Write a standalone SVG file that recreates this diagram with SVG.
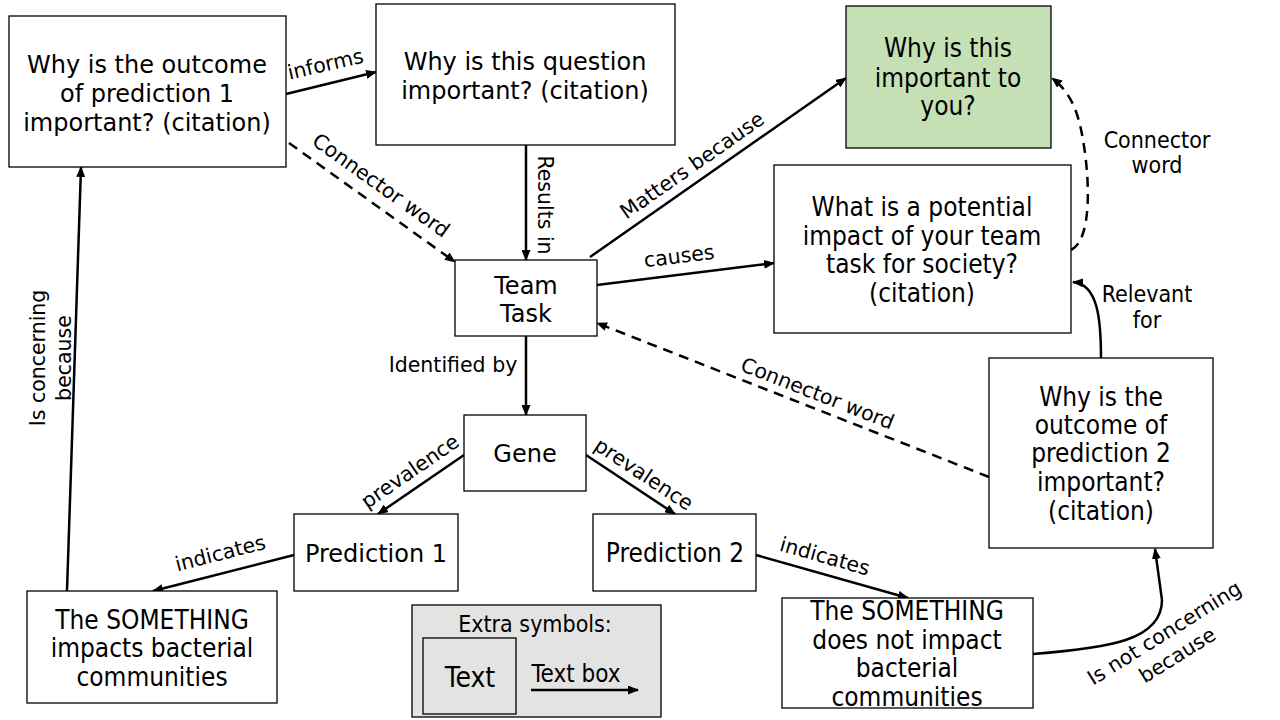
<svg xmlns="http://www.w3.org/2000/svg" width="1280" height="720" viewBox="0 0 1280 720">
<defs>
<marker id="ah" markerWidth="11" markerHeight="9" refX="10" refY="4.5" orient="auto" markerUnits="userSpaceOnUse">
<path d="M0,0 L11,4.5 L0,9 Z" fill="#000"/>
</marker>
</defs>
<style>
.box{fill:#fff;stroke:#000;stroke-width:1.3}
.w{font-family:"DejaVu Sans",Verdana,sans-serif;font-size:24px;fill:#000;text-anchor:middle}
.n{font-family:"DejaVu Sans Condensed","DejaVu Sans",sans-serif;font-stretch:condensed;font-size:26px;fill:#000;text-anchor:middle}
.l{font-family:"DejaVu Sans",Verdana,sans-serif;font-size:20.5px;fill:#000;text-anchor:middle}
.ln{font-family:"DejaVu Sans Condensed","DejaVu Sans",sans-serif;font-stretch:condensed;font-size:23px;fill:#000;text-anchor:middle}
.c{fill:none;stroke:#000;stroke-width:2.5;marker-end:url(#ah)}
.d{stroke-dasharray:10,7}
</style>
<rect width="1280" height="720" fill="#fff"/>

<g id="connectors">
<path class="c" d="M286,94 L376,72"/>
<path class="c d" d="M289,143 L455,262"/>
<path class="c" d="M526,145 L526,260"/>
<path class="c" d="M590,257 L846,78"/>
<path class="c" d="M597,285 L774,263"/>
<path class="c d" d="M989,477 L597,323"/>
<path class="c" d="M526,336 L526,415"/>
<path class="c" d="M464,455 L378,514"/>
<path class="c" d="M586,455 L675,514"/>
<path class="c" d="M294,555 L153,591"/>
<path class="c" d="M756,555 L908,598"/>
<path class="c" d="M67,591 L81,167"/>
<path class="c" d="M1033,654 C1110,648 1162,640 1162,600 L1155,549"/>
<path class="c" d="M1101,358 C1101,320 1098,284 1073,282"/>
<path class="c d" d="M1071,250 C1092,240 1090,180 1083,140 C1078,110 1070,92 1052,78"/>
<text class="l" transform="translate(327,71) rotate(-13)">informs</text>
<text class="l" transform="translate(377,191) rotate(35.5)">Connector word</text>
<text class="l" transform="translate(538,205) rotate(90)">Results in</text>
<text class="l" transform="translate(696,171) rotate(-35)">Matters because</text>
<text class="l" transform="translate(680,263) rotate(-7)">causes</text>
<text class="l" transform="translate(815,400) rotate(21.5)">Connector word</text>
<text class="l" x="453" y="372">Identified by</text>
<text class="l" transform="translate(414,477) rotate(-34.5)">prevalence</text>
<text class="l" transform="translate(640,480) rotate(33.5)">prevalence</text>
<text class="l" transform="translate(222,560) rotate(-14.3)">indicates</text>
<text class="l" transform="translate(823,563) rotate(15.8)">indicates</text>
<text class="l" transform="translate(45,358) rotate(-90)">Is concerning</text>
<text class="l" transform="translate(71,358) rotate(-90)">because</text>
<text class="l" transform="translate(1168,639) rotate(-32)">Is not concerning</text>
<text class="l" transform="translate(1181,661) rotate(-32)">because</text>
<text class="ln" x="1147" y="302">Relevant</text>
<text class="ln" x="1147" y="328">for</text>
<text class="ln" x="1157" y="148">Connector</text>
<text class="ln" x="1157" y="173">word</text>
</g>

<g id="q1">
<rect class="box" x="9" y="16" width="277" height="151"/>
<text class="w" x="147" y="73">Why is the outcome</text>
<text class="w" x="147" y="102">of prediction 1</text>
<text class="w" x="147" y="131">important? (citation)</text>
</g>
<g id="question">
<rect class="box" x="376" y="4" width="299" height="141"/>
<text class="w" x="525" y="70">Why is this question</text>
<text class="w" x="525" y="99">important? (citation)</text>
</g>
<g id="you">
<rect x="846" y="6" width="205" height="142" fill="#c5e0b4" stroke="#000" stroke-width="1.3"/>
<text class="n" x="948" y="57">Why is this</text>
<text class="n" x="948" y="87">important to</text>
<text class="n" x="948" y="115">you?</text>
</g>
<g id="impact">
<rect class="box" x="774" y="165" width="297" height="168"/>
<text class="n" x="922" y="216">What is a potential</text>
<text class="n" x="922" y="245">impact of your team</text>
<text class="n" x="922" y="273">task for society?</text>
<text class="n" x="922" y="302">(citation)</text>
</g>
<g id="team">
<rect class="box" x="455" y="260" width="142" height="76"/>
<text class="w" x="526" y="294">Team</text>
<text class="w" x="526" y="322">Task</text>
</g>
<g id="gene">
<rect class="box" x="464" y="415" width="122" height="76"/>
<text class="w" x="525" y="462">Gene</text>
</g>
<g id="pred1">
<rect class="box" x="294" y="514" width="164" height="77"/>
<text class="w" x="376" y="562">Prediction 1</text>
</g>
<g id="pred2">
<rect class="box" x="593" y="514" width="163" height="77"/>
<text class="n" x="675" y="562">Prediction 2</text>
</g>
<g id="q2">
<rect class="box" x="989" y="358" width="224" height="190"/>
<text class="n" x="1101" y="406">Why is the</text>
<text class="n" x="1101" y="434">outcome of</text>
<text class="n" x="1101" y="462">prediction 2</text>
<text class="n" x="1101" y="491">important?</text>
<text class="n" x="1101" y="520">(citation)</text>
</g>
<g id="impacts">
<rect class="box" x="27" y="591" width="250" height="112"/>
<text class="n" x="152" y="629">The SOMETHING</text>
<text class="n" x="152" y="657">impacts bacterial</text>
<text class="n" x="152" y="686">communities</text>
</g>
<g id="notimpact">
<rect class="box" x="782" y="598" width="251" height="110"/>
<text class="n" x="907" y="620">The SOMETHING</text>
<text class="n" x="907" y="649">does not impact</text>
<text class="n" x="907" y="677">bacterial</text>
<text class="n" x="907" y="706">communities</text>
</g>
<g id="legend">
<rect x="412" y="605" width="249" height="112" fill="#e3e3e3" stroke="#000" stroke-width="1.3"/>
<text class="ln" x="535" y="632">Extra symbols:</text>
<rect x="423" y="638" width="93" height="76" fill="#e3e3e3" stroke="#000" stroke-width="1.3"/>
<text class="n" x="470" y="687" style="font-size:28px">Text</text>
<text class="ln" x="576" y="682" style="font-size:24px">Text box</text>
<path class="c" d="M531,690 L638,690"/>
</g>
</svg>
